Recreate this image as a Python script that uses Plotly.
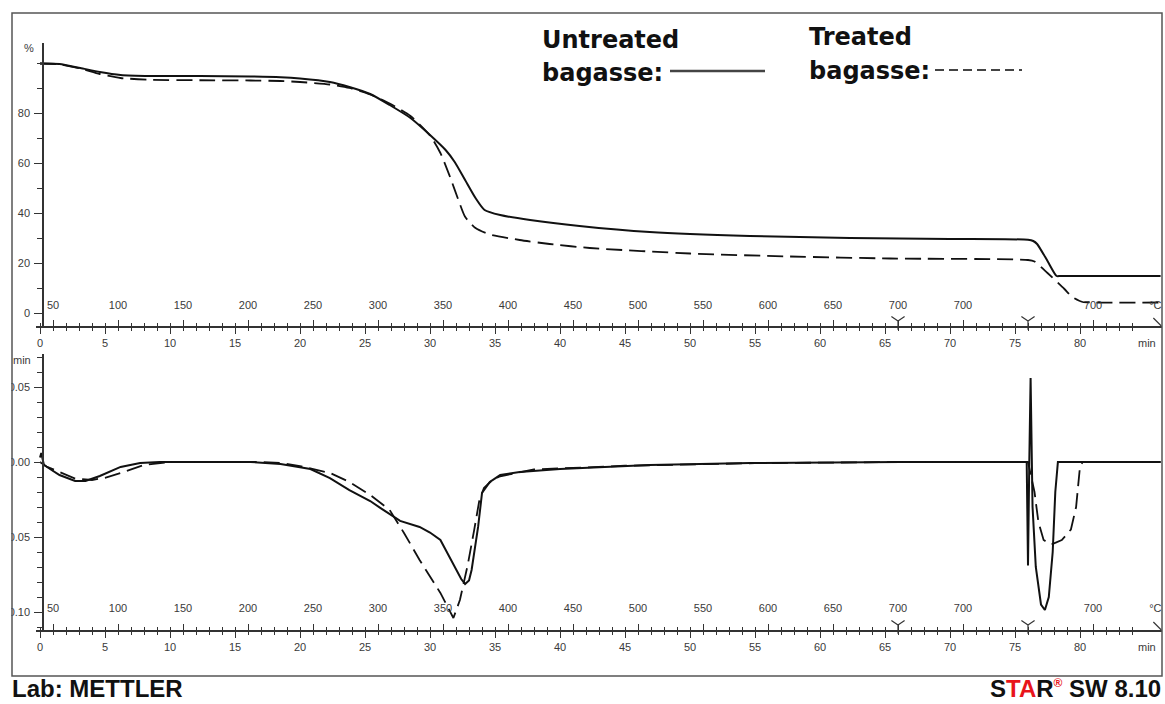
import plotly.graph_objects as go

# ---------------- data ----------------
# TG, untreated bagasse (solid): time [min], mass [%]
tg_u_time = [0, 1.5, 3.1, 4.6, 6.2, 8.5, 12.3, 16.2, 18.5, 20.0, 22.3, 23.8, 25.4, 26.9,
             28.5, 30.0, 31.2, 31.9, 32.7, 33.5, 34.2, 35.4, 37.7, 41.5, 46.9, 54.6,
             62.3, 70.0, 76.0, 76.4, 76.7, 77.5, 78.2, 78.5, 86.2]
tg_u_mass = [99.8, 99.6, 98.0, 96.4, 95.2, 94.8, 94.8, 94.6, 94.3, 93.8, 92.4, 90.4, 87.6, 83.2,
             78.0, 71.2, 65.2, 60.4, 53.2, 46.0, 41.2, 39.2, 37.2, 34.8, 32.4, 30.8,
             30.0, 29.6, 29.3, 28.8, 27.6, 20.8, 14.8, 14.8, 14.8]

# TG, treated bagasse (dashed)
tg_t_time = [0, 1.5, 3.1, 4.6, 6.2, 8.5, 12.3, 16.2, 18.5, 20.0, 22.3, 23.8, 25.4, 26.9,
             28.5, 30.0, 30.8, 31.5, 32.2, 32.7, 33.5, 34.6, 36.9, 39.2, 42.3, 50.0,
             57.7, 65.4, 76.0, 76.5, 77.5, 78.8, 79.4, 80.2, 81.0, 86.2]
tg_t_mass = [99.8, 99.5, 97.8, 95.6, 94.0, 93.3, 93.1, 93.0, 92.8, 92.4, 91.4, 90.0, 87.4, 83.8,
             78.8, 71.0, 64.0, 55.0, 45.0, 38.5, 34.0, 31.4, 29.2, 27.6, 26.0, 23.8,
             22.6, 21.8, 21.2, 20.6, 16.0, 9.6, 6.4, 4.4, 4.2, 4.2]

# DTG, untreated bagasse (solid): time [min], rate [1/min]
dtg_u_time = [0, 0.1, 0.3, 1.5, 2.7, 3.5, 4.6, 6.2, 7.7, 9.2, 16.2, 18.5, 20.8, 22.3, 23.8,
              25.4, 26.2, 27.7, 29.2, 30.0, 30.8, 31.2, 31.9, 32.4, 32.7, 33.0, 33.2, 33.7,
              34.0, 34.6, 35.4, 36.9, 40.0, 46.9, 54.6, 66.2, 75.9, 76.0, 76.1, 76.2, 76.35,
              76.6, 77.0, 77.3, 77.6, 77.9, 78.1, 78.3, 86.2]
dtg_u_rate = [0.003, 0.006, -0.002, -0.0087, -0.0127, -0.0127, -0.0093, -0.0033, -0.0007, 0.0,
              0.0, -0.0013, -0.0047, -0.0107, -0.0187, -0.026, -0.0307, -0.0393, -0.0433,
              -0.047, -0.052, -0.0587, -0.0707, -0.078, -0.0813, -0.079, -0.072, -0.0433,
              -0.0207, -0.0133, -0.0087, -0.0067, -0.0047, -0.002, -0.0007, 0.0, 0.0, -0.069,
              0.0, 0.056, -0.03, -0.07, -0.095, -0.0987, -0.09, -0.06, -0.02, 0.0, 0.0]

# DTG, treated bagasse (dashed)
dtg_t_time = [0, 0.5, 1.5, 2.7, 4.0, 5.0, 6.5, 8.0, 10.0, 17.0, 18.5, 20.0, 22.3, 23.8, 25.4,
              26.9, 28.0, 29.2, 30.8, 31.5, 31.8, 32.3, 32.9, 33.4, 33.8, 34.15, 34.8, 35.4,
              38.0, 45.0, 55.0, 66.0, 76.0, 76.5, 76.8, 77.2, 77.8, 78.6, 79.3, 79.7, 80.0,
              80.2, 86.2]
dtg_t_rate = [0.0, -0.003, -0.0067, -0.011, -0.012, -0.0105, -0.0065, -0.002, 0.0, 0.0,
              -0.0007, -0.0027, -0.0073, -0.0133, -0.022, -0.032, -0.0473, -0.0653, -0.0873,
              -0.0987, -0.104, -0.092, -0.0687, -0.0453, -0.0253, -0.0173, -0.012, -0.0095,
              -0.005, -0.0025, -0.0008, 0.0, 0.0, -0.02, -0.04, -0.052, -0.055, -0.052, -0.045,
              -0.03, -0.003, 0.0, 0.0]

# axis ticks and labels
time_ticks = list(range(0, 81, 5))
time_tick_labels = [str(v) for v in time_ticks]
minute_ticks = list(range(0, 85))
temp_label_times = [1, 6, 11, 16, 21, 26, 31, 36, 41, 46, 51, 56, 61, 66, 71, 81]
temp_labels = ['50', '100', '150', '200', '250', '300', '350', '400', '450', '500',
               '550', '600', '650', '700', '700', '700']
segment_marks = [66, 76]
tg_ticks = [0, 20, 40, 60, 80]
tg_tick_labels = ['0', '20', '40', '60', '80']
dtg_ticks = [-0.10, -0.05, 0.0, 0.05]
dtg_tick_labels = ['-0.10', '-0.05', '0.00', '0.05']

# ---------------- layout geometry (pixels) ----------------
W, H = 1165, 704
def px(x):
    return x / W
def py(y):
    return 1 - y / H

X0PX, MINPX = 40.0, 13.0             # time 0 position and px per minute
XL, XR = 36, 1162                    # x domain in px
x_range = [(XL - X0PX) / MINPX, (XR - X0PX) / MINPX]
TOP_AX, TOP_Y0, TOP_PPU, TOP_TOP = 326, 313, 2.5, 43
BOT_AX, BOT_Y0, BOT_PPU, BOT_TOP = 630, 462, 1500.0, 354
top_range = [(TOP_Y0 - TOP_AX) / TOP_PPU, (TOP_Y0 - TOP_TOP) / TOP_PPU]
bot_range = [(BOT_Y0 - BOT_AX) / BOT_PPU, (BOT_Y0 - BOT_TOP) / BOT_PPU]
YAX_PX = 43

INK = '#111111'
AX = '#333333'
LBL = dict(family='Liberation Sans, Arial, sans-serif', size=11, color='#3a3a3a')

fig = go.Figure()

# curves
fig.add_trace(go.Scatter(x=tg_u_time, y=tg_u_mass, mode='lines', xaxis='x', yaxis='y',
                         line=dict(color=INK, width=2, shape='spline', smoothing=0.6)))
fig.add_trace(go.Scatter(x=tg_t_time, y=tg_t_mass, mode='lines', xaxis='x', yaxis='y',
                         line=dict(color=INK, width=1.8, dash='16px,7px', shape='spline', smoothing=0.6)))
fig.add_trace(go.Scatter(x=dtg_u_time, y=dtg_u_rate, mode='lines', xaxis='x2', yaxis='y2',
                         line=dict(color=INK, width=2)))
fig.add_trace(go.Scatter(x=dtg_t_time, y=dtg_t_rate, mode='lines', xaxis='x2', yaxis='y2',
                         line=dict(color=INK, width=1.8, dash='16px,7px')))

# temperature labels above each time axis, segment marks and axis-end arrow
for xa, ya, ylab, ymark, yarr in (
        ('x3', 'y', (TOP_Y0 - 306) / TOP_PPU, (TOP_Y0 - 321) / TOP_PPU, (TOP_Y0 - 322) / TOP_PPU),
        ('x4', 'y2', (BOT_Y0 - 609) / BOT_PPU, (BOT_Y0 - 625) / BOT_PPU, (BOT_Y0 - 626) / BOT_PPU)):
    fig.add_trace(go.Scatter(x=temp_label_times + [85.8], y=[ylab] * (len(temp_labels) + 1),
                             mode='text', text=temp_labels + ['°C'], textfont=LBL,
                             xaxis=xa, yaxis=ya, cliponaxis=False, hoverinfo='skip'))
    fig.add_trace(go.Scatter(x=segment_marks, y=[ymark] * len(segment_marks), mode='markers',
                             marker=dict(symbol='y-down-open', size=11, color=AX,
                                         line=dict(color=AX, width=1.2)),
                             xaxis=xa, yaxis=ya, cliponaxis=False, hoverinfo='skip'))
    fig.add_trace(go.Scatter(x=[85.95], y=[yarr], mode='markers',
                             marker=dict(symbol='line-nw', size=8, color=AX,
                                         line=dict(color=AX, width=1.2)),
                             xaxis=xa, yaxis=ya, cliponaxis=False, hoverinfo='skip'))

def time_axis(anchor):
    return dict(domain=[px(XL), px(XR)], range=x_range, anchor=anchor,
                showline=True, linecolor=AX, linewidth=1.5, showgrid=False, zeroline=False,
                ticks='outside', ticklen=6, tickwidth=1, tickcolor=AX,
                tickvals=time_ticks, ticktext=time_tick_labels, tickfont=LBL,
                minor=dict(ticks='outside', ticklen=3, tickwidth=1, tickcolor=AX,
                           tickvals=minute_ticks),
                fixedrange=True)

def temp_axis(over, anchor):
    return dict(domain=[px(XL), px(XR)], range=x_range, anchor=anchor, overlaying=over,
                showline=False, showgrid=False, zeroline=False,
                ticks='inside', ticklen=6, tickwidth=1, tickcolor=AX,
                tickvals=temp_label_times, showticklabels=False,
                minor=dict(ticks='inside', ticklen=3, tickwidth=1, tickcolor=AX,
                           tickvals=minute_ticks),
                fixedrange=True)

def value_axis(dom, rng, vals, texts, mdt):
    return dict(domain=dom, range=rng, anchor='free', position=px(YAX_PX),
                showline=True, linecolor=AX, linewidth=1.5, showgrid=False, zeroline=False,
                ticks='outside', ticklen=8, tickcolor=AX, ticklabelstandoff=2,
                tickvals=vals, ticktext=texts, tickfont=LBL,
                minor=dict(ticks='outside', ticklen=5, tickcolor=AX, dtick=mdt, tick0=0),
                fixedrange=True)

fig.update_layout(
    width=W, height=H,
    margin=dict(l=0, r=0, t=0, b=0, autoexpand=False),
    paper_bgcolor='white', plot_bgcolor='rgba(0,0,0,0)',
    showlegend=False,
    xaxis=time_axis('y'),
    xaxis2=time_axis('y2'),
    xaxis3=temp_axis('x', 'y'),
    xaxis4=temp_axis('x2', 'y2'),
    yaxis=value_axis([py(TOP_AX), py(TOP_TOP)], top_range, tg_ticks, tg_tick_labels, 10),
    yaxis2=value_axis([py(BOT_AX), py(BOT_TOP)], bot_range, dtg_ticks, dtg_tick_labels, 0.01),
)

def note(text, x, y, font, xanchor='center', yanchor='middle'):
    fig.add_annotation(text=text, x=px(x), y=py(y), xref='paper', yref='paper',
                       xanchor=xanchor, yanchor=yanchor, showarrow=False, font=font,
                       borderpad=0)

# unit labels
note('%', 29, 48, LBL)
note('min', 12, 360, LBL, 'left')
for yy in (343, 647):
    note('min', 1147, yy, LBL)

# legend text
BOLD = dict(family='DejaVu Sans, sans-serif', size=24, color='#111111')
note('<b>Untreated</b>', 541, 40, BOLD, 'left')
note('<b>bagasse:</b>', 541, 73, BOLD, 'left')
note('<b>Treated</b>', 808, 37, BOLD, 'left')
note('<b>bagasse:</b>', 808, 71, BOLD, 'left')

# footer (anchored to the bottom of the page so it stays inside it)
FOOT = dict(family='Liberation Sans, Arial, sans-serif', size=24, color='#111111')
note('<b>Lab: METTLER</b>', 11, 703, FOOT, 'left', 'bottom')
note("<b>S<span style='color:#e8141b'>TA</span>R"
     "<sup><span style='color:#e8141b;font-size:12px'>®</span></sup> SW 8.10</b>",
     1162, 703, FOOT, 'right', 'bottom')

shapes = [
    # legend line samples
    dict(type='line', xref='paper', yref='paper', x0=px(670), x1=px(765), y0=py(71), y1=py(71),
         line=dict(color='#444444', width=2.5)),
    dict(type='line', xref='paper', yref='paper', x0=px(935), x1=px(1022), y0=py(70), y1=py(70),
         line=dict(color='#444444', width=2, dash='9px,5px')),
    # white cover left of the frame (frame clips the tick labels there)
    dict(type='rect', xref='paper', yref='paper', x0=0, x1=px(11.3), y0=py(676), y1=py(13),
         fillcolor='white', line=dict(width=0), layer='above'),
    # outer frame
    dict(type='rect', xref='paper', yref='paper', x0=px(12), x1=px(1162), y0=py(676), y1=py(13),
         line=dict(color='#555555', width=1.5), layer='above'),
]
fig.update_layout(shapes=shapes)

fig.write_html('out.html', config={'displayModeBar': False},
               post_script="document.body.style.margin='0';document.body.style.overflow='hidden';")
